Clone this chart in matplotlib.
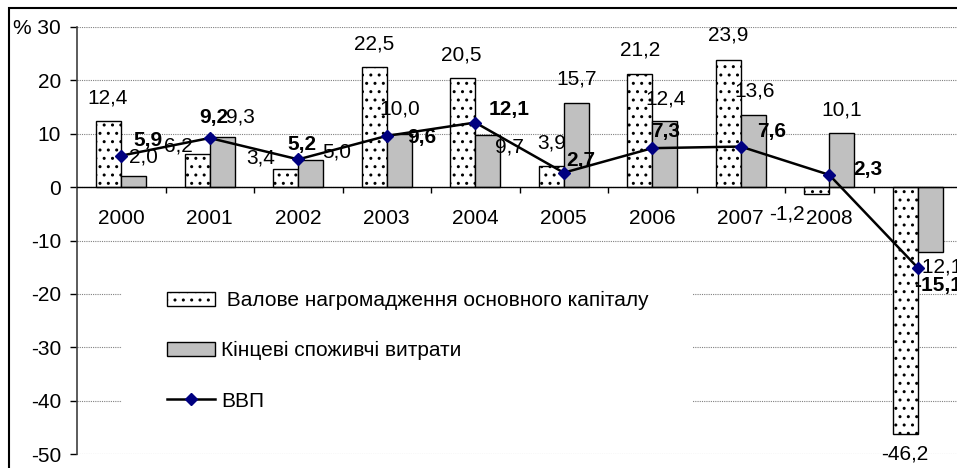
import matplotlib
matplotlib.use('Agg')
import matplotlib.pyplot as plt
from matplotlib.patches import Rectangle
import numpy as np

plt.rcParams['font.family'] = ['Liberation Sans', 'DejaVu Sans']
plt.rcParams['hatch.linewidth'] = 1.0
plt.rcParams['hatch.color'] = '#303030'

# ---------------- data ----------------
years = ['2000', '2001', '2002', '2003', '2004', '2005', '2006', '2007', '2008', '2009']
gfcf = [12.4, 6.2, 3.4, 22.5, 20.5, 3.9, 21.2, 23.9, -1.2, -46.2]
consumption = [2.0, 9.3, 5.0, 10.0, 9.7, 15.7, 12.4, 13.6, 10.1, -12.1]
gdp = [5.9, 9.2, 5.2, 9.6, 12.1, 2.7, 7.3, 7.6, 2.3, -15.1]
y_ticks = [-50, -40, -30, -20, -10, 0, 10, 20, 30]
y_tick_labels = ['-50', '-40', '-30', '-20', '-10', '0', '10', '20', '% 30']
series_names = [' Валове нагромадження основного капіталу',
                'Кінцеві споживчі витрати',
                'ВВП']

# data-label placement (pixel offsets from the value point: right, up)
gfcf_label_off = [(-1, 22.5), (-18.5, 8), (-25, 11), (0, 23), (-1, 23),
                  (0, 23.7), (0, 23.5), (0, 24.5), (-30, -20), (0, -20)]
cons_label_off = [(10, 19), (18.5, 20), (26, 8), (0, 24.5), (21.5, -12),
                  (0, 24), (1, 22), (1, 24), (0, 23.5), (8, -15)]
gdp_label_off = [(26.5, 15.5), (4, 21), (3.5, 15), (35, -2), (33.5, 13.5),
                 (17, 12), (13.5, 17), (31, 15.5), (38.5, 5), (20, -18)]


def fmt(v):
    return f"{v:.1f}".replace('.', ',')


FS = 15
W, H = 957, 468
fig = plt.figure(figsize=(W / 100, H / 100), dpi=100)
ax = fig.add_axes([77 / W, 1 - 454 / H, 885 / W, (454 - 27) / H])

x = np.arange(len(years))
bw = 0.2825

b1 = ax.bar(x - bw / 2, gfcf, width=bw, facecolor='white', edgecolor='black',
            linewidth=1.0, hatch='..', label=series_names[0], zorder=2)
b2 = ax.bar(x + bw / 2, consumption, width=bw, facecolor='#C0C0C0',
            edgecolor='black', linewidth=1.0, label=series_names[1], zorder=2)
ln, = ax.plot(x, gdp, color='black', linewidth=1.8, marker='D', markersize=6,
              markerfacecolor='#000080', markeredgecolor='#000080',
              label=series_names[2], zorder=3)

for xi, v, (dx, dy) in zip(x - bw / 2, gfcf, gfcf_label_off):
    ax.annotate(fmt(v), xy=(xi, v), xytext=(dx, dy), textcoords='offset pixels',
                ha='center', va='center', fontsize=FS, zorder=2.5, annotation_clip=False)
for xi, v, (dx, dy) in zip(x + bw / 2, consumption, cons_label_off):
    ax.annotate(fmt(v), xy=(xi, v), xytext=(dx, dy), textcoords='offset pixels',
                ha='center', va='center', fontsize=FS, zorder=2.5, annotation_clip=False)
for xi, v, (dx, dy) in zip(x, gdp, gdp_label_off):
    ax.annotate(fmt(v), xy=(xi, v), xytext=(dx, dy), textcoords='offset pixels',
                ha='center', va='center', fontsize=FS, fontweight='bold', zorder=4,
                annotation_clip=False)

ax.set_xlim(-0.5, len(years) - 0.5)
ax.set_ylim(-50, 30)

# y axis
ax.set_yticks(y_ticks)
ax.set_yticklabels(y_tick_labels, fontsize=FS)
ax.tick_params(axis='y', direction='out', length=5, width=1, pad=6.5, colors='black')
ax.grid(axis='y', color='#808080', linestyle=(0, (1, 1)), linewidth=0.8)
ax.set_axisbelow(True)

# x axis at zero
ax.spines['bottom'].set_position(('data', 0))
ax.spines['top'].set_visible(False)
ax.spines['right'].set_visible(False)
ax.spines['left'].set_color('#404040')
ax.spines['left'].set_linewidth(1.2)
ax.spines['bottom'].set_linewidth(1.0)
ax.set_xticks(x[:-1] + 0.5)
ax.set_xticklabels([])
ax.set_xticks(x, minor=True)
ax.set_xticklabels(years, minor=True, fontsize=FS)
ax.tick_params(axis='x', which='major', direction='out', length=4.5, width=1, color='black')
ax.tick_params(axis='x', which='minor', length=0, pad=16)

leg = ax.legend(handles=[b1, b2, ln], loc='upper left',
                bbox_to_anchor=(167 / W, 1 - 291 / H), bbox_transform=fig.transFigure,
                frameon=False, borderpad=0, borderaxespad=0, fontsize=FS,
                handlelength=2.3, handleheight=0.65, handletextpad=0.3,
                labelspacing=1.5)
leg.set_zorder(6)

fig.canvas.draw()
bb = leg.get_window_extent(fig.canvas.get_renderer())
inv = fig.transFigure.inverted()
(fx0, fy0) = inv.transform((bb.x0 - 45, bb.y0 - 20))
(fx1, fy1) = inv.transform((bb.x1 + 43, bb.y1 + 20))
backdrop = Rectangle((fx0, fy0), fx1 - fx0, fy1 - fy0, transform=fig.transFigure,
                     facecolor='white', edgecolor='none', zorder=1.5)
ax.add_patch(backdrop)

# outer chart-area border
fig.add_artist(Rectangle((9 / W, -0.5), 2, (1 - 8 / H) + 0.5, transform=fig.transFigure,
                         fill=False, edgecolor='black', linewidth=1.5, clip_on=False))

fig.savefig('out.png', dpi=100)
